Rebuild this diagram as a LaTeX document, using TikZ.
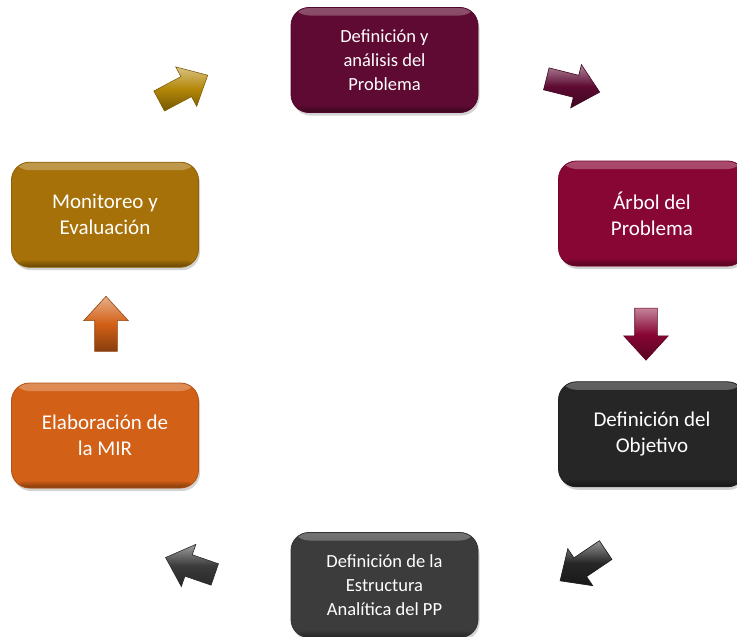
\documentclass[tikz,border=0pt]{standalone}
\usepackage{fontspec}
\setmainfont{Carlito}
\usepackage{xcolor}
\usetikzlibrary{positioning,shapes.arrows,shadows,calc}
\definecolor{wine}{RGB}{94,10,50}
\definecolor{crimson}{RGB}{136,6,52}
\definecolor{charcoal}{RGB}{38,38,38}
\definecolor{slate}{RGB}{60,60,60}
\definecolor{rust}{RGB}{210,96,22}
\definecolor{ochre}{RGB}{166,113,8}

\begin{document}
\begin{tikzpicture}[
  x=1pt, y=1pt,
  stage/.style={rectangle, rounded corners=18pt, minimum width=187pt, minimum height=105pt,
    align=center, text=white, fill=#1, draw=#1!85!black, line width=0.8pt,
    drop shadow={shadow xshift=1.5pt, shadow yshift=-3pt, opacity=0.35},
    path picture={
      \shade[top color=#1!72!white, bottom color=#1]
        (path picture bounding box.north west) rectangle ($(path picture bounding box.north east)+(0,-8pt)$);
      \shade[top color=#1, bottom color=#1!60!black]
        ($(path picture bounding box.south west)+(0,8pt)$) rectangle (path picture bounding box.south east);
    }},
  sidefont/.style={font=\fontsize{21}{26}\selectfont},
  midfont/.style={font=\fontsize{18.5}{24}\selectfont},
  turn/.style={single arrow, single arrow head extend=11pt, single arrow tip angle=85,
    minimum height=55pt, inner xsep=0pt, inner ysep=11pt, draw=#1!70!black, line width=0.6pt,
    top color=#1!50!white, bottom color=#1!65!black, middle color=#1}
]
  \useasboundingbox (0,0) rectangle (737,-637);

  % etapas del ciclo
  \node[stage=wine, midfont] (defprob) at (384.5,-60) {Definición y\\análisis del\\Problema};
  \node[stage=crimson, sidefont] (arbol) at (652,-213.5) {Árbol del\\Problema};
  \node[stage=charcoal, sidefont, below=115pt of arbol] (objetivo) {Definición del\\Objetivo};
  \node[stage=slate, midfont] (estructura) at (384.5,-585) {Definición de la\\Estructura\\Analítica del PP};
  \node[stage=rust, sidefont] (mir) at (105,-435.5) {Elaboración de\\la MIR};
  \node[stage=ochre, sidefont, above=115pt of mir] (monitoreo) {Monitoreo y\\Evaluación};

  % flechas entre etapas
  \node[turn=ochre!85!yellow, rotate=28] (f1) at (178,-91) {};
  \node[turn=wine, rotate=-14] (f2) at (567,-84) {};
  \node[turn=crimson, rotate=-90, minimum height=52pt] (f3) at (646,-328) {};
  \node[turn=charcoal, rotate=214] (f4) at (588,-562) {};
  \node[turn=slate, rotate=161, minimum height=52pt] (f5) at (196,-568) {};
  \node[turn=rust, rotate=90] (f6) at (106,-330) {};
\end{tikzpicture}
\end{document}
